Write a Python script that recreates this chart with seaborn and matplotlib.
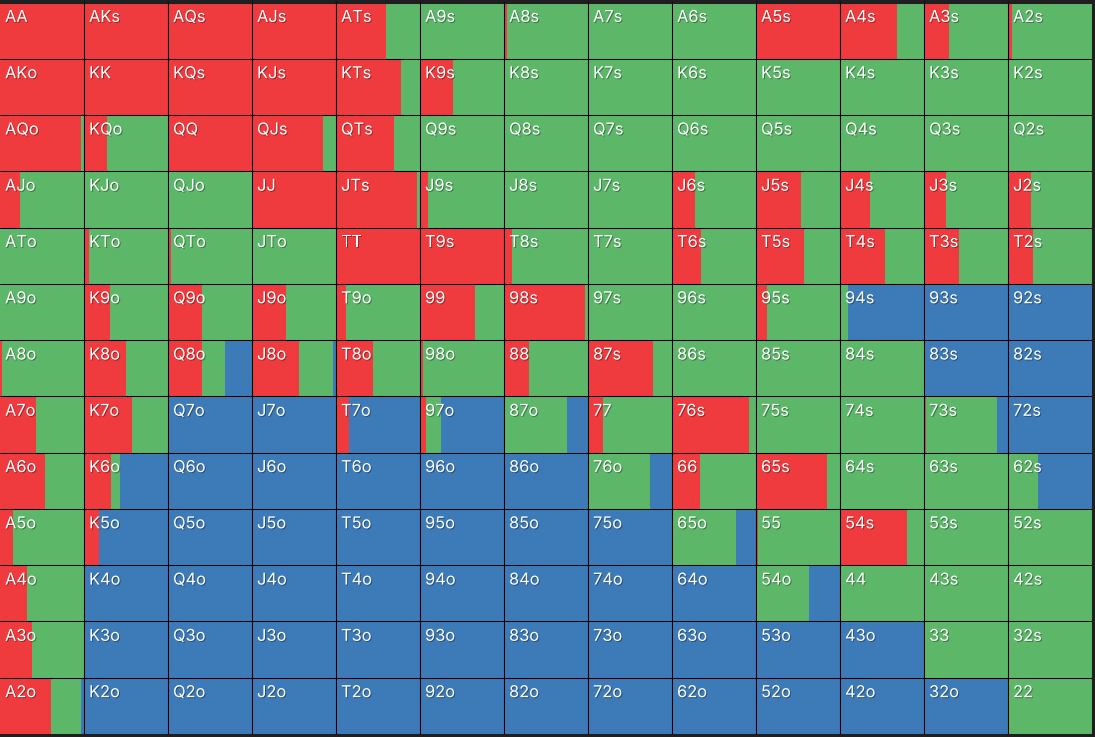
import numpy as np
import pandas as pd
import matplotlib
matplotlib.use("Agg")
import matplotlib.pyplot as plt
import seaborn as sns
from matplotlib import patheffects as pe

# ---------------- data ----------------
RANKS = list("AKQJT98765432")

# fraction of each hand that is raised (red)
RAISE = [
    [1.00, 1.00, 1.00, 1.00, 0.59, 0.00, 0.04, 0.00, 0.00, 1.00, 0.68, 0.30, 0.05],
    [1.00, 1.00, 1.00, 1.00, 0.77, 0.39, 0.00, 0.00, 0.00, 0.00, 0.00, 0.00, 0.00],
    [0.97, 0.27, 1.00, 0.85, 0.69, 0.00, 0.00, 0.00, 0.00, 0.00, 0.00, 0.00, 0.00],
    [0.24, 0.00, 0.00, 1.00, 0.96, 0.10, 0.00, 0.00, 0.27, 0.54, 0.36, 0.26, 0.27],
    [0.00, 0.06, 0.04, 0.00, 1.00, 1.00, 0.10, 0.00, 0.34, 0.57, 0.53, 0.42, 0.30],
    [0.00, 0.31, 0.41, 0.41, 0.12, 0.65, 0.97, 0.00, 0.00, 0.125, 0.00, 0.00, 0.00],
    [0.02, 0.50, 0.41, 0.56, 0.44, 0.04, 0.30, 0.77, 0.00, 0.00, 0.00, 0.00, 0.00],
    [0.43, 0.57, 0.00, 0.00, 0.15, 0.07, 0.00, 0.18, 0.92, 0.00, 0.00, 0.02, 0.00],
    [0.54, 0.32, 0.00, 0.00, 0.00, 0.00, 0.00, 0.00, 0.33, 0.85, 0.00, 0.00, 0.00],
    [0.16, 0.18, 0.00, 0.00, 0.00, 0.00, 0.00, 0.00, 0.00, 0.02, 0.80, 0.00, 0.00],
    [0.32, 0.00, 0.00, 0.00, 0.00, 0.00, 0.00, 0.00, 0.00, 0.00, 0.00, 0.00, 0.00],
    [0.38, 0.00, 0.00, 0.00, 0.00, 0.00, 0.00, 0.00, 0.00, 0.00, 0.00, 0.00, 0.00],
    [0.61, 0.00, 0.00, 0.00, 0.00, 0.00, 0.00, 0.00, 0.00, 0.00, 0.00, 0.00, 0.00],
]

# fraction of each hand that is called (green)
CALL = [
    [0.00, 0.00, 0.00, 0.00, 0.41, 1.00, 0.96, 1.00, 1.00, 0.00, 0.32, 0.70, 0.95],
    [0.00, 0.00, 0.00, 0.00, 0.23, 0.61, 1.00, 1.00, 1.00, 1.00, 1.00, 1.00, 1.00],
    [0.03, 0.73, 0.00, 0.15, 0.31, 1.00, 1.00, 1.00, 1.00, 1.00, 1.00, 1.00, 1.00],
    [0.76, 1.00, 1.00, 0.00, 0.04, 0.90, 1.00, 1.00, 0.73, 0.46, 0.64, 0.74, 0.73],
    [1.00, 0.94, 0.96, 1.00, 0.00, 0.00, 0.90, 1.00, 0.66, 0.43, 0.47, 0.58, 0.70],
    [1.00, 0.69, 0.59, 0.59, 0.88, 0.35, 0.03, 1.00, 1.00, 0.875, 0.10, 0.00, 0.00],
    [0.98, 0.50, 0.27, 0.40, 0.56, 0.96, 0.70, 0.23, 1.00, 1.00, 1.00, 0.00, 0.00],
    [0.57, 0.43, 0.00, 0.00, 0.00, 0.18, 0.75, 0.82, 0.08, 1.00, 1.00, 0.85, 0.00],
    [0.46, 0.11, 0.00, 0.00, 0.00, 0.00, 0.00, 0.74, 0.67, 0.15, 1.00, 1.00, 0.36],
    [0.84, 0.00, 0.00, 0.00, 0.00, 0.00, 0.00, 0.00, 0.76, 0.98, 0.20, 1.00, 1.00],
    [0.68, 0.00, 0.00, 0.00, 0.00, 0.00, 0.00, 0.00, 0.00, 0.63, 1.00, 1.00, 1.00],
    [0.62, 0.00, 0.00, 0.00, 0.00, 0.00, 0.00, 0.00, 0.00, 0.00, 0.00, 1.00, 1.00],
    [0.36, 0.00, 0.00, 0.00, 0.00, 0.00, 0.00, 0.00, 0.00, 0.00, 0.00, 0.00, 1.00],
]

RED = "#EF3A3E"
GREEN = "#5CB769"
BLUE = "#3D7AB8"
FRAME = "#1f1f1f"


def hand_label(i, j):
    if i == j:
        return RANKS[i] + RANKS[j]
    if j > i:
        return RANKS[i] + RANKS[j] + "s"
    return RANKS[j] + RANKS[i] + "o"


# long-form table
records = []
for i, rr in enumerate(RANKS):
    for j, cr in enumerate(RANKS):
        r = RAISE[i][j]
        c = CALL[i][j]
        records.append(dict(row=rr, col=cr, i=i, j=j,
                            total=1.0, raise_call=r + c, raise_=r,
                            label=hand_label(i, j)))
df = pd.DataFrame(records)

# ---------------- plot ----------------
sns.set_theme(style="white")
plt.rcParams["font.family"] = ["Inter", "DejaVu Sans"]

W, H = 1095, 737
fig = plt.figure(figsize=(W / 100, H / 100), dpi=100, facecolor=FRAME)
gs = fig.add_gridspec(1, 13, left=0, right=1 - 3 / W,
                      bottom=3 / H, top=1 - 2.5 / H, wspace=0)

shadow = [pe.withSimplePatchShadow(offset=(0.7, -0.7), shadow_rgbFace="black", alpha=0.35)]
LW = 0.75

for j, cr in enumerate(RANKS):
    ax = fig.add_subplot(gs[0, j])
    sub = df[df["col"] == cr]
    for colname, colr in (("total", BLUE), ("raise_call", GREEN), ("raise_", RED)):
        sns.barplot(data=sub, x=colname, y="row", order=RANKS, orient="h",
                    color=colr, saturation=1, width=1.0, linewidth=0,
                    errorbar=None, ax=ax)
    ax.set_xlim(0, 1)
    ax.set_ylim(12.5, -0.5)
    ax.set_xticks([])
    ax.set_yticks([])
    ax.set_xlabel("")
    ax.set_ylabel("")
    for name, s in ax.spines.items():
        s.set_visible(True)
        s.set_color("black")
        s.set_linewidth(LW)
        if name in ("top", "bottom"):
            s.set_color(FRAME)
    if j == 0:
        ax.spines["left"].set_visible(False)
    if j == 12:
        ax.spines["right"].set_color(FRAME)
    for k in range(1, 13):
        ax.axhline(k - 0.5, color="black", lw=LW)
    for _, rec in sub.iterrows():
        ax.text(0.06, rec["i"] - 0.5 + 0.345, rec["label"], color="white",
                fontsize=11.8, ha="left", va="baseline", path_effects=shadow)

fig.savefig("out.png", dpi=100, facecolor=FRAME)
